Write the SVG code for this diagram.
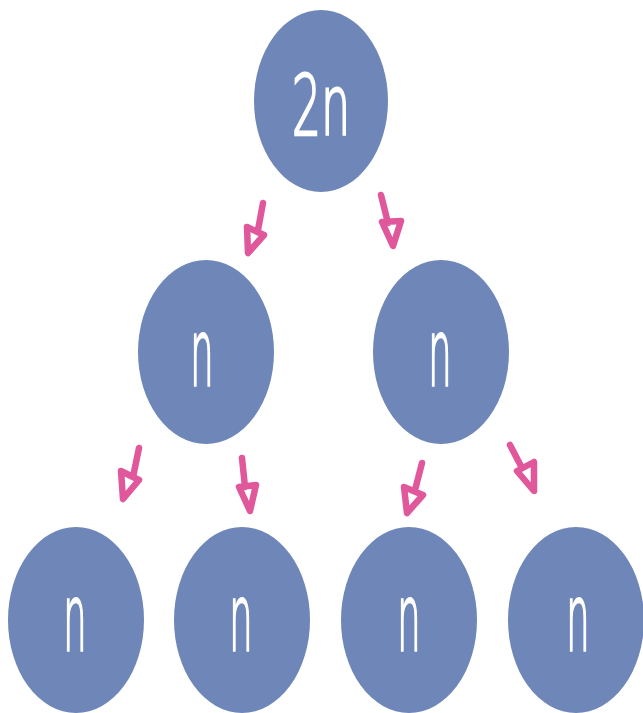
<svg xmlns="http://www.w3.org/2000/svg" width="643" height="713" viewBox="0 0 643 713">
<style>
.node{fill:#6f86b9}
.lbl{fill:#ffffff;font-family:"DejaVu Sans","Liberation Sans",sans-serif;font-weight:200;text-anchor:middle;stroke:#ffffff;stroke-width:2.5}
.arr{fill:none;stroke:#e0579c;stroke-width:6.5;stroke-linecap:round;stroke-linejoin:round}
</style>
<rect width="643" height="713" fill="#ffffff"/>
<g id="node-top"><ellipse class="node" cx="321" cy="101" rx="67" ry="91"/><text class="lbl" font-size="84" transform="translate(321,135) scale(0.55,1)">2n</text></g>
<g id="node-mid-left"><ellipse class="node" cx="206" cy="352" rx="68" ry="92"/><text class="lbl" font-size="92" transform="translate(202,385) scale(0.4,1)">n</text></g>
<g id="node-mid-right"><ellipse class="node" cx="441" cy="352" rx="68" ry="92"/><text class="lbl" font-size="92" transform="translate(440,385) scale(0.4,1)">n</text></g>
<g id="node-bot-1"><ellipse class="node" cx="76" cy="620" rx="68" ry="93"/><text class="lbl" font-size="92" transform="translate(75,650) scale(0.4,1)">n</text></g>
<g id="node-bot-2"><ellipse class="node" cx="242" cy="620" rx="68" ry="93"/><text class="lbl" font-size="92" transform="translate(241,650) scale(0.4,1)">n</text></g>
<g id="node-bot-3"><ellipse class="node" cx="409" cy="620" rx="68" ry="93"/><text class="lbl" font-size="92" transform="translate(409,650) scale(0.4,1)">n</text></g>
<g id="node-bot-4"><ellipse class="node" cx="576" cy="620" rx="68" ry="93"/><text class="lbl" font-size="92" transform="translate(578,650) scale(0.4,1)">n</text></g>
<g id="connectors">
<path class="arr" d="M263,203 L258,230 M247,227 L264,235 L248,253 Z"/>
<path class="arr" d="M381,195 L388,223 M382,222 L401,221 L393,246 Z"/>
<path class="arr" d="M139,448 L133,477 M121,471 L139,480 L123,499 Z"/>
<path class="arr" d="M242,458 L245,487 M239,487 L256,485 L250,511 Z"/>
<path class="arr" d="M422,463 L415,490 M404,487 L423,495 L407,513 Z"/>
<path class="arr" d="M510,445 L522,468 M517,471 L534,462 L534,491 Z"/>
</g>
</svg>
